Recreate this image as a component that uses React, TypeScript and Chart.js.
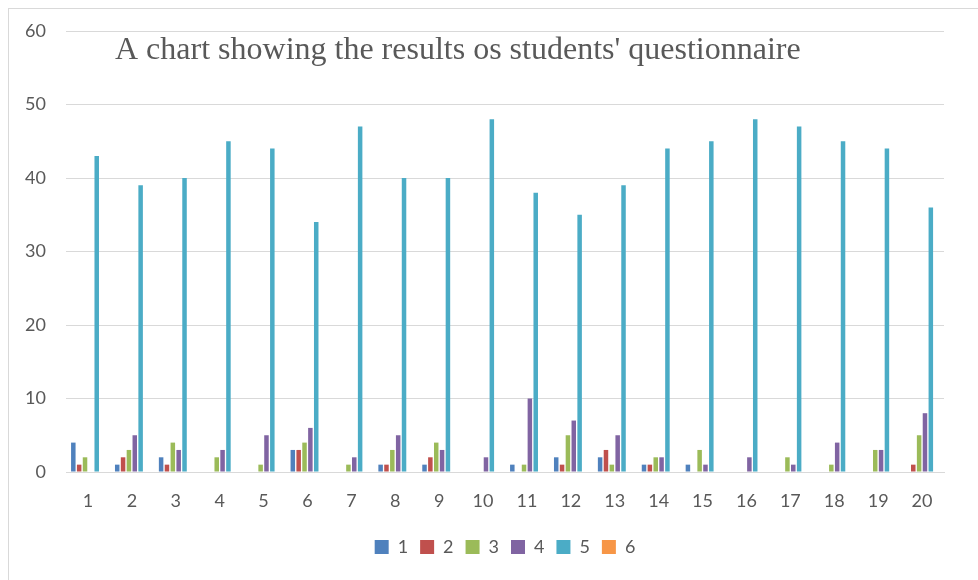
import React, { useEffect, useRef } from "react";
import { Chart, registerables } from "chart.js";

Chart.register(...registerables);

const categories = ["1","2","3","4","5","6","7","8","9","10","11","12","13","14","15","16","17","18","19","20"];
const series1 = [4,1,2,0,0,3,0,1,1,0,1,2,2,1,1,0,0,0,0,0];
const series2 = [1,2,1,0,0,3,0,1,2,0,0,1,3,1,0,0,0,0,0,1];
const series3 = [2,3,4,2,1,4,1,3,4,0,1,5,1,2,3,0,2,1,3,5];
const series4 = [0,5,3,3,5,6,2,5,3,2,10,7,5,2,1,2,1,4,3,8];
const series5 = [43,39,40,45,44,34,47,40,40,48,38,35,39,44,45,48,47,45,44,36];
const series6 = [0,0,0,0,0,0,0,0,0,0,0,0,0,0,0,0,0,0,0,0];
const seriesNames = ["1","2","3","4","5","6"];
const colors = ["#4f81bd","#c0504d","#9bbb59","#8064a2","#4bacc6","#f79646"];
const yTicks = [0,10,20,30,40,50,60];
const titleText = "A chart showing the results os students' questionnaire";

const decor = {
  id: "decor",
  afterDraw(chart: any) {
    const ctx = chart.ctx;
    ctx.save();
    ctx.strokeStyle = "#d9d9d9";
    ctx.lineWidth = 1;
    ctx.strokeRect(8.5, 8.5, chart.width, chart.height);
    ctx.fillStyle = "#595959";
    ctx.font = "32px 'Liberation Serif'";
    ctx.textBaseline = "alphabetic";
    ctx.textAlign = "left";
    ctx.fillText(titleText, 115, 59);
    ctx.restore();
  },
};

export default function App() {
  const ref = useRef<HTMLCanvasElement>(null);
  useEffect(() => {
    const data = [series1, series2, series3, series4, series5, series6];
    const chart = new Chart(ref.current!, {
      type: "bar",
      data: {
        labels: categories,
        datasets: data.map((d, i) => ({
          label: seriesNames[i],
          data: d,
          backgroundColor: colors[i],
          borderWidth: 0,
          barPercentage: 0.77,
          categoryPercentage: 0.8,
        })),
      },
      options: {
        animation: false,
        responsive: false,
        maintainAspectRatio: false,
        layout: { padding: { left: 8, right: 34, top: 31, bottom: 14 } },
        plugins: {
          title: { display: false },
          tooltip: { enabled: false },
          legend: {
            position: "bottom",
            fullSize: false,
            labels: {
              boxWidth: 14,
              boxHeight: 14,
              padding: 12,
              color: "#595959",
              font: { family: "Lato", size: 18 },
            },
          },
        },
        scales: {
          x: {
            grid: { display: false, drawTicks: false },
            border: { color: "#d9d9d9", width: 1 },
            ticks: { color: "#595959", font: { family: "Lato", size: 18 }, padding: 18 },
            afterFit: (s: any) => { s.height = 54; },
          },
          y: {
            min: 0,
            max: 60,
            afterBuildTicks: (s: any) => { s.ticks = yTicks.map((v) => ({ value: v })); },
            grid: { color: "#d9d9d9", lineWidth: 1, drawTicks: false },
            border: { display: false },
            ticks: { color: "#595959", font: { family: "Lato", size: 18 }, padding: 20 },
            afterFit: (s: any) => { s.width = 58; },
          },
        },
      },
      plugins: [decor],
    });
    return () => chart.destroy();
  }, []);
  return (
    <div style={{ position: "fixed", left: 0, top: 0, width: 978, height: 580 }}>
      <canvas ref={ref} width={978} height={580} style={{ display: "block" }} />
    </div>
  );
}
